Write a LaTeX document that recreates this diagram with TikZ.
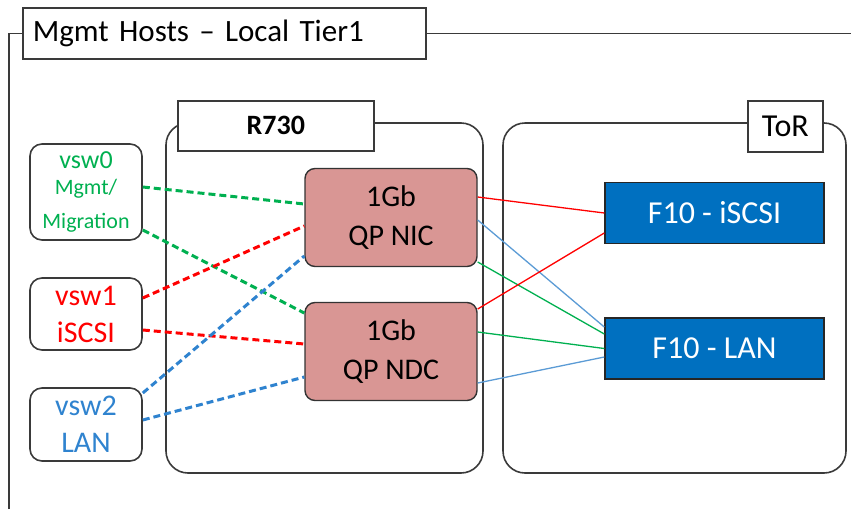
\documentclass[tikz,border=0pt]{standalone}
\usepackage{fontspec}
\setmainfont{Carlito}
\usepackage{tikz}
\usetikzlibrary{calc,positioning}
\definecolor{mgmtgreen}{HTML}{00B050}
\definecolor{iscsired}{HTML}{FF0000}
\definecolor{lanblue}{HTML}{2F83CF}
\definecolor{lanthin}{HTML}{5B9BD5}
\definecolor{nicfill}{HTML}{D99694}
\definecolor{torblue}{HTML}{0070C0}
\definecolor{framegray}{HTML}{3A3A3A}

\begin{document}
\begin{tikzpicture}[x=1pt, y=-1pt,
		frameline/.style={draw=framegray, line width=1.6pt},
		tabbox/.style={frameline, fill=white, inner sep=0pt},
		vswbox/.style={frameline, rounded corners=12pt, minimum width=112pt, align=center, inner sep=0pt},
		nicbox/.style={draw=black!80, line width=1.4pt, fill=nicfill, rounded corners=10pt, minimum width=172pt, minimum height=98pt, align=center, font=\fontsize{30}{39}\selectfont},
		torbox/.style={draw=black!85, line width=1.4pt, fill=torblue, text=white, minimum width=219pt, minimum height=61pt, font=\fontsize{32}{36}\selectfont},
		vlan/.style={line width=3pt, dash pattern=on 7pt off 4pt},
		uplink/.style={line width=1.3pt}]
		\useasboundingbox (0,0) rectangle (851,509);
		
		% Outer frame
		\node[tabbox, text width=383pt, inner xsep=10pt, minimum height=51pt, align=left, anchor=north west, font=\fontsize{31}{36}\selectfont] (title) at (22,7) {Mgmt Hosts – Local Tier1};
		\draw[frameline] (9,509) |- (title.west);
		\draw[frameline] (title.east) -- ++(426,0);
		
		% Host and ToR
		\draw[frameline, rounded corners=22pt] (166,123) rectangle (483,473);
		\node[tabbox, minimum width=196pt, minimum height=50pt, anchor=north west, font=\bfseries\fontsize{28}{32}\selectfont] (r730) at (177,100) {R730};
		\draw[frameline, rounded corners=22pt] (503,123) rectangle (846,473);
		\node[tabbox, minimum width=75pt, minimum height=51pt, anchor=north west, font=\fontsize{32}{34}\selectfont] (tor) at (747,100) {ToR};
		
		% vSwitches
		\node[vswbox, minimum height=96pt, text=mgmtgreen, font=\fontsize{22}{26}\selectfont] (vswa) at (86,192) {{\fontsize{26}{26}\selectfont vsw0}\\Mgmt/\\[8pt]Migration};
		\node[vswbox, minimum height=72pt, text=iscsired, font=\fontsize{30}{37}\selectfont] (vswb) at (86,314) {vsw1\\iSCSI};
		\node[vswbox, minimum height=73pt, text=lanblue, font=\fontsize{30}{37}\selectfont] (vswc) at (86,424.5) {vsw2\\LAN};
		
		% Adapters
		\node[nicbox] (nic) at (391,217.5) {1Gb\\QP NIC};
		\node[nicbox] (ndc) at (391,351.5) {1Gb\\QP NDC};
		
		% Switches
		\node[torbox] (iscsi) at (714.5,213) {F10 - iSCSI};
		\node[torbox] (lan) at (714.5,348.5) {F10 - LAN};
		
		% vSwitch to adapter
		\draw[vlan, mgmtgreen] ([yshift=5pt]vswa.east) -- ([yshift=13.5pt]nic.west);
		\draw[vlan, mgmtgreen] ([yshift=-38pt]vswa.east) -- ([yshift=38.5pt]ndc.west);
		\draw[vlan, iscsired] ([yshift=16pt]vswb.east) -- ([yshift=-8.5pt]nic.west);
		\draw[vlan, iscsired] ([yshift=-16pt]vswb.east) -- ([yshift=7.5pt]ndc.west);
		\draw[vlan, lanblue] ([yshift=31.5pt]vswc.east) -- ([yshift=-38.5pt]nic.west);
		\draw[vlan, lanblue] ([yshift=4.5pt]vswc.east) -- ([yshift=-25.5pt]ndc.west);
		
		% Adapter to ToR
		\draw[uplink, iscsired] ([yshift=20.5pt]nic.east) -- (iscsi.west);
		\draw[uplink, lanthin] ([yshift=-2.5pt]nic.east) -- ([yshift=21.5pt]lan.west);
		\draw[uplink, mgmtgreen] ([yshift=-44.5pt]nic.east) -- ([yshift=14.5pt]lan.west);
		\draw[uplink, iscsired] ([yshift=42.5pt]ndc.east) -- ([yshift=-20pt]iscsi.west);
		\draw[uplink, mgmtgreen] ([yshift=19.5pt]ndc.east) -- (lan.west);
		\draw[uplink, lanthin] ([yshift=-31.5pt]ndc.east) -- ([yshift=-8.5pt]lan.west);
	\end{tikzpicture}
\end{document}
